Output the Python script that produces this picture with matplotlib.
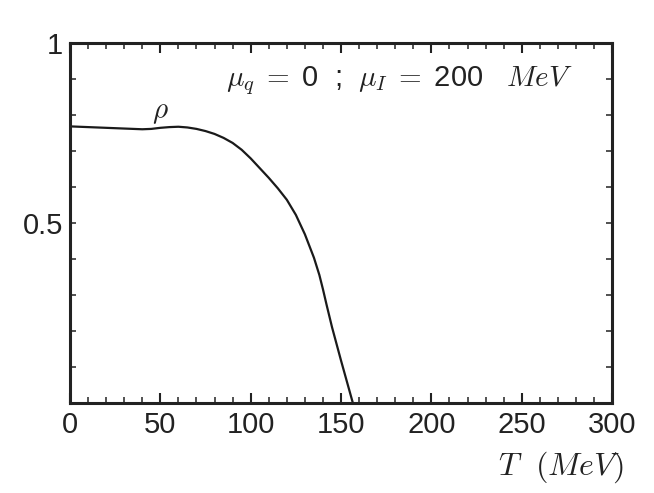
"""
plot.py
"""

import numpy as np
import matplotlib.pyplot as plt
from matplotlib.ticker import MultipleLocator

plt.rcParams['font.family'] = ['Liberation Sans', 'DejaVu Sans']
plt.rcParams['mathtext.fontset'] = 'cm'

# rho condensate vs temperature
temp = [0, 10, 20, 30, 40, 45, 50, 55, 60, 65, 70, 75, 80, 85, 90, 95,
        100, 105, 110, 115, 120, 125, 130, 135, 138, 140, 142, 145, 150,
        156.5]
rho = [0.768, 0.766, 0.764, 0.762, 0.760, 0.761, 0.764, 0.766, 0.767,
       0.765, 0.761, 0.755, 0.747, 0.736, 0.722, 0.703, 0.679, 0.652,
       0.625, 0.596, 0.564, 0.522, 0.468, 0.403, 0.355, 0.315, 0.272,
       0.210, 0.117, 0.0]

xticks = [0, 50, 100, 150, 200, 250, 300]
yticks = [0.5, 1]
ytick_labels = ['0.5', '1']

fig = plt.figure(figsize=(6.54, 4.93), dpi=100)
ax = fig.add_axes([0.107, 0.183, 0.829, 0.730])

ax.plot(temp, rho, color='#1a1a1a', linewidth=1.6)

ax.set_xlim(0, 300)
ax.set_ylim(0, 1)
ax.set_xticks(xticks)
ax.set_xticklabels([str(t) for t in xticks])
ax.set_yticks(yticks)
ax.set_yticklabels(ytick_labels)
ax.xaxis.set_minor_locator(MultipleLocator(10))
ax.yaxis.set_minor_locator(MultipleLocator(0.1))

for s in ax.spines.values():
    s.set_linewidth(2.2)
    s.set_color('#222222')

ax.tick_params(which='both', direction='in', top=True, right=True,
               colors='#222222', labelsize=21)
ax.tick_params(axis='x', which='major', length=7, width=1.5, pad=6)
ax.tick_params(axis='x', which='minor', length=4, width=1.1)
ax.tick_params(axis='y', which='major', length=4, width=1.1, pad=5)
ax.tick_params(axis='y', which='minor', length=4, width=1.1)

ax.text(49.8, 0.808, r'$\rho$', fontsize=21, ha='center', va='center',
        color='#222222')
ax.text(0.928 * 300, 0.895,
        r'$\mu_q\;=\;$0  ;  $\mu_I\;=\;$200   $MeV$',
        fontsize=21, ha='right', va='center', color='#222222')

fig.text(0.953, 0.052, r'$T\ \ (MeV)$', fontsize=23, ha='right',
         va='center', color='#222222')

fig.savefig('out.png', dpi=100)
